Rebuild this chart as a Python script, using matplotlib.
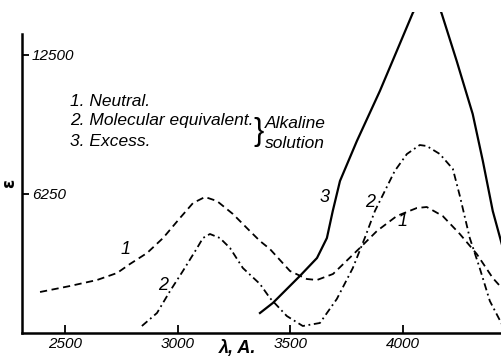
import matplotlib
matplotlib.use("Agg")
import matplotlib.pyplot as plt

# Data (wavelength in Angstrom, extinction coefficient)
wl_neutral = [2389, 2522, 2642, 2731, 2788, 2864, 2935, 3010, 3068, 3121, 3174, 3245,
              3320, 3365, 3409, 3498, 3573, 3618, 3689, 3808, 3884, 3972, 4061, 4105,
              4176, 4252, 4327, 4398, 4438]
eps_neutral = [1843, 2113, 2383, 2698, 3102, 3597, 4271, 5170, 5845, 6115, 5935, 5350,
               4586, 4136, 3777, 2788, 2428, 2383, 2653, 3822, 4586, 5260, 5620, 5665,
               5260, 4451, 3552, 2473, 2023]

wl_equiv = [2841, 2908, 2966, 3023, 3086, 3112, 3143, 3187, 3232, 3289, 3365, 3409,
            3484, 3555, 3631, 3706, 3777, 3830, 3875, 3941, 3963, 4017, 4074, 4105,
            4163, 4221, 4252, 4296, 4340, 4385, 4438]
eps_equiv = [315, 899, 1888, 2788, 3822, 4271, 4451, 4271, 3822, 2922, 2203, 1574,
             764, 315, 450, 1529, 2922, 4271, 5485, 6834, 7284, 8048, 8452, 8408,
             8048, 7374, 6160, 4271, 2922, 1439, 405]

wl_excess = [3365, 3422, 3542, 3618, 3662, 3688, 3720, 3795, 3897, 3972, 4043, 4120,
             4172, 4238, 4309, 4354, 4398, 4438]
eps_excess = [899, 1349, 2563, 3372, 4271, 5485, 6834, 8632, 10880, 12679, 14387, 15800,
              14342, 12229, 9846, 7733, 5485, 4001]

x_ticks = [2500, 3000, 3500, 4000]
y_ticks = [6250, 12500]
y_tick_labels = ["6250", "12500"]

FONT = ["Liberation Sans Narrow", "Liberation Sans", "DejaVu Sans"]
plt.rcParams["font.family"] = FONT

W, H = 502, 356
fig = plt.figure(figsize=(W / 100, H / 100), dpi=100)
ax = fig.add_axes([22 / W, (H - 333) / H, (W - 22) / W, 321 / H])
ax.set_xlim(2309, 4439)
ax.set_ylim(0, 14433)

ax.plot(wl_neutral, eps_neutral, color="black", lw=1.3, ls=(0, (4, 2.5)), clip_on=False)
ax.plot(wl_equiv, eps_equiv, color="black", lw=1.3, ls=(0, (4, 2, 1, 2)), clip_on=False)
ax.plot(wl_excess, eps_excess, color="black", lw=1.6, ls="-")

for s in ["top", "right"]:
    ax.spines[s].set_visible(False)
ax.spines["left"].set_bounds(0, 13444)
ax.spines["left"].set_linewidth(1.8)
ax.spines["bottom"].set_linewidth(1.8)

ax.set_xticks(x_ticks)
ax.set_xticklabels([str(v) for v in x_ticks], fontstyle="italic", fontsize=11)
ax.tick_params(axis="x", direction="in", length=6, width=1.3, pad=3)
ax.set_yticks(y_ticks)
ax.set_yticklabels(y_tick_labels, fontstyle="italic", fontsize=11)
ax.tick_params(axis="y", direction="in", length=5, width=1.3, pad=-7)
for lab in ax.get_yticklabels():
    lab.set_ha("left")

# Legend text
fig.text(70 / W, 1 - 101 / H, "1. Neutral.", fontsize=12.5, fontstyle="italic", va="center")
fig.text(70 / W, 1 - 121 / H, "2. Molecular equivalent.", fontsize=12.5, fontstyle="italic", va="center")
fig.text(70 / W, 1 - 141 / H, "3. Excess.", fontsize=12.5, fontstyle="italic", va="center")
fig.text(265 / W, 1 - 124 / H, "Alkaline", fontsize=12.5, fontstyle="italic", va="center")
fig.text(265 / W, 1 - 143 / H, "solution", fontsize=12.5, fontstyle="italic", va="center")
fig.text(258.5 / W, 1 - 132 / H, "}", fontsize=22, va="center", ha="center",
         family="Liberation Sans")

# Curve labels
for (px, py, t) in [(126, 250, "1"), (163, 285, "2"), (325, 197, "3"), (370, 202, "2"), (403, 222, "1")]:
    fig.text(px / W, 1 - py / H, t, fontsize=13, fontstyle="italic", ha="center", va="center")

# Axis labels
fig.text(9 / W, 1 - 183 / H, "ε", fontsize=12, fontweight="bold", rotation=90, ha="center", va="center",
         family="DejaVu Sans")
fig.text(238 / W, 1 - 349 / H, "λ, A.", fontsize=13, fontweight="bold", fontstyle="italic",
         ha="center", va="center")

fig.savefig("out.png", dpi=100)
